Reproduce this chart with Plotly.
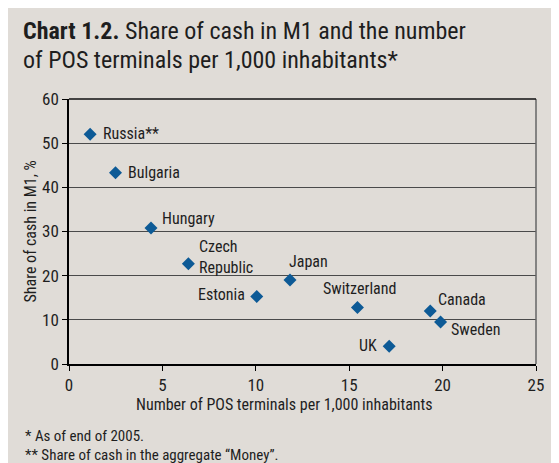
import plotly.graph_objects as go

countries = ["Russia**", "Bulgaria", "Hungary", "Czech<br>Republic", "Estonia",
             "Japan", "Switzerland", "Canada", "Sweden", "UK"]
pos_terminals = [1.13, 2.49, 4.39, 6.39, 10.05, 11.83, 15.44, 19.34, 19.89, 17.14]
cash_share = [52.0, 43.3, 30.8, 22.7, 15.3, 19.0, 12.8, 12.0, 9.5, 4.0]

x_ticks = [0, 5, 10, 15, 20, 25]
y_ticks = [0, 10, 20, 30, 40, 50, 60]

# label placement (pixel offsets) per country: xanchor, xshift, yshift
label_style = [
    ("left", 11, 1), ("left", 10, 0), ("left", 8.5, 9), ("left", 9, 7), ("right", -9.5, 2),
    ("left", -2.5, 19), ("center", 2, 19), ("left", 5.5, 12), ("left", 8.5, -7), ("right", -10, 1),
]

FONT = "Roboto Condensed, Liberation Sans, sans-serif"
BG = "#e0dcd7"
TXT = "#1e1e1e"

fig = go.Figure()
fig.add_trace(go.Scatter(
    x=pos_terminals, y=cash_share, mode="markers",
    marker=dict(symbol="diamond", size=10, color="#0d5a96"),
    hoverinfo="skip", showlegend=False,
))

annotations = []
for name, xv, yv, (anc, xs, ys) in zip(countries, pos_terminals, cash_share, label_style):
    annotations.append(dict(
        x=xv, y=yv, xref="x", yref="y", text=name, showarrow=False,
        xanchor=anc, yanchor="middle", xshift=xs, yshift=ys, align="left",
        font=dict(family=FONT, size=16, color=TXT),
    ))

annotations += [
    dict(xref="paper", yref="paper", x=-0.103, y=1.257, xanchor="left", yanchor="middle",
         text="<b>Chart 1.2.</b> Share of cash in M1 and the number", showarrow=False,
         font=dict(family=FONT, size=24, color=TXT)),
    dict(xref="paper", yref="paper", x=-0.103, y=1.149, xanchor="left", yanchor="middle",
         text="of POS terminals per 1,000 inhabitants*", showarrow=False,
         font=dict(family=FONT, size=24, color=TXT)),
    dict(xref="paper", yref="paper", x=0.461, y=-0.154, xanchor="center", yanchor="middle",
         text="Number of POS terminals per 1,000 inhabitants", showarrow=False,
         font=dict(family=FONT, size=16, color=TXT)),
    dict(xref="paper", yref="paper", x=-0.082, y=0.499, xanchor="center", yanchor="middle",
         text="Share of cash in M1, %", showarrow=False, textangle=-90,
         font=dict(family=FONT, size=16, color=TXT)),
    dict(xref="paper", yref="paper", x=-0.099, y=-0.273, xanchor="left", yanchor="middle",
         text="* As of end of 2005.", showarrow=False,
         font=dict(family=FONT, size=15, color=TXT)),
    dict(xref="paper", yref="paper", x=-0.099, y=-0.342, xanchor="left", yanchor="middle",
         text="** Share of cash in the aggregate \u201cMoney\u201d.", showarrow=False,
         font=dict(family=FONT, size=15, color=TXT)),
]

fig.update_layout(
    width=543, height=455,
    margin=dict(l=61, r=7, t=91, b=99),
    paper_bgcolor=BG, plot_bgcolor=BG,
    font=dict(family=FONT, color=TXT),
    annotations=annotations,
    shapes=[
        dict(type="line", xref="paper", yref="paper", x0=1, x1=1, y0=0, y1=1,
             line=dict(color="#666666", width=1.5)),
        dict(type="line", xref="paper", yref="paper", x0=0, x1=1, y0=1, y1=1,
             line=dict(color="#111111", width=1.5)),
    ],
    xaxis=dict(
        range=[0, 25], tickvals=x_ticks, ticks="outside", ticklen=5, tickcolor="black",
        showgrid=False, showline=True, linecolor="black", linewidth=1.5, zeroline=False,
        ticklabeloverflow="allow",
        tickfont=dict(size=17, family=FONT, color=TXT),
    ),
    yaxis=dict(
        range=[0, 60], tickvals=y_ticks, ticks="outside", ticklen=5, tickcolor="black",
        showgrid=True, gridcolor="#4a4a4a", gridwidth=1.2,
        showline=True, linecolor="black", linewidth=1.5, zeroline=False,
        tickfont=dict(size=17, family=FONT, color=TXT),
    ),
)

fig.write_html("out.html", config={"displayModeBar": False})
